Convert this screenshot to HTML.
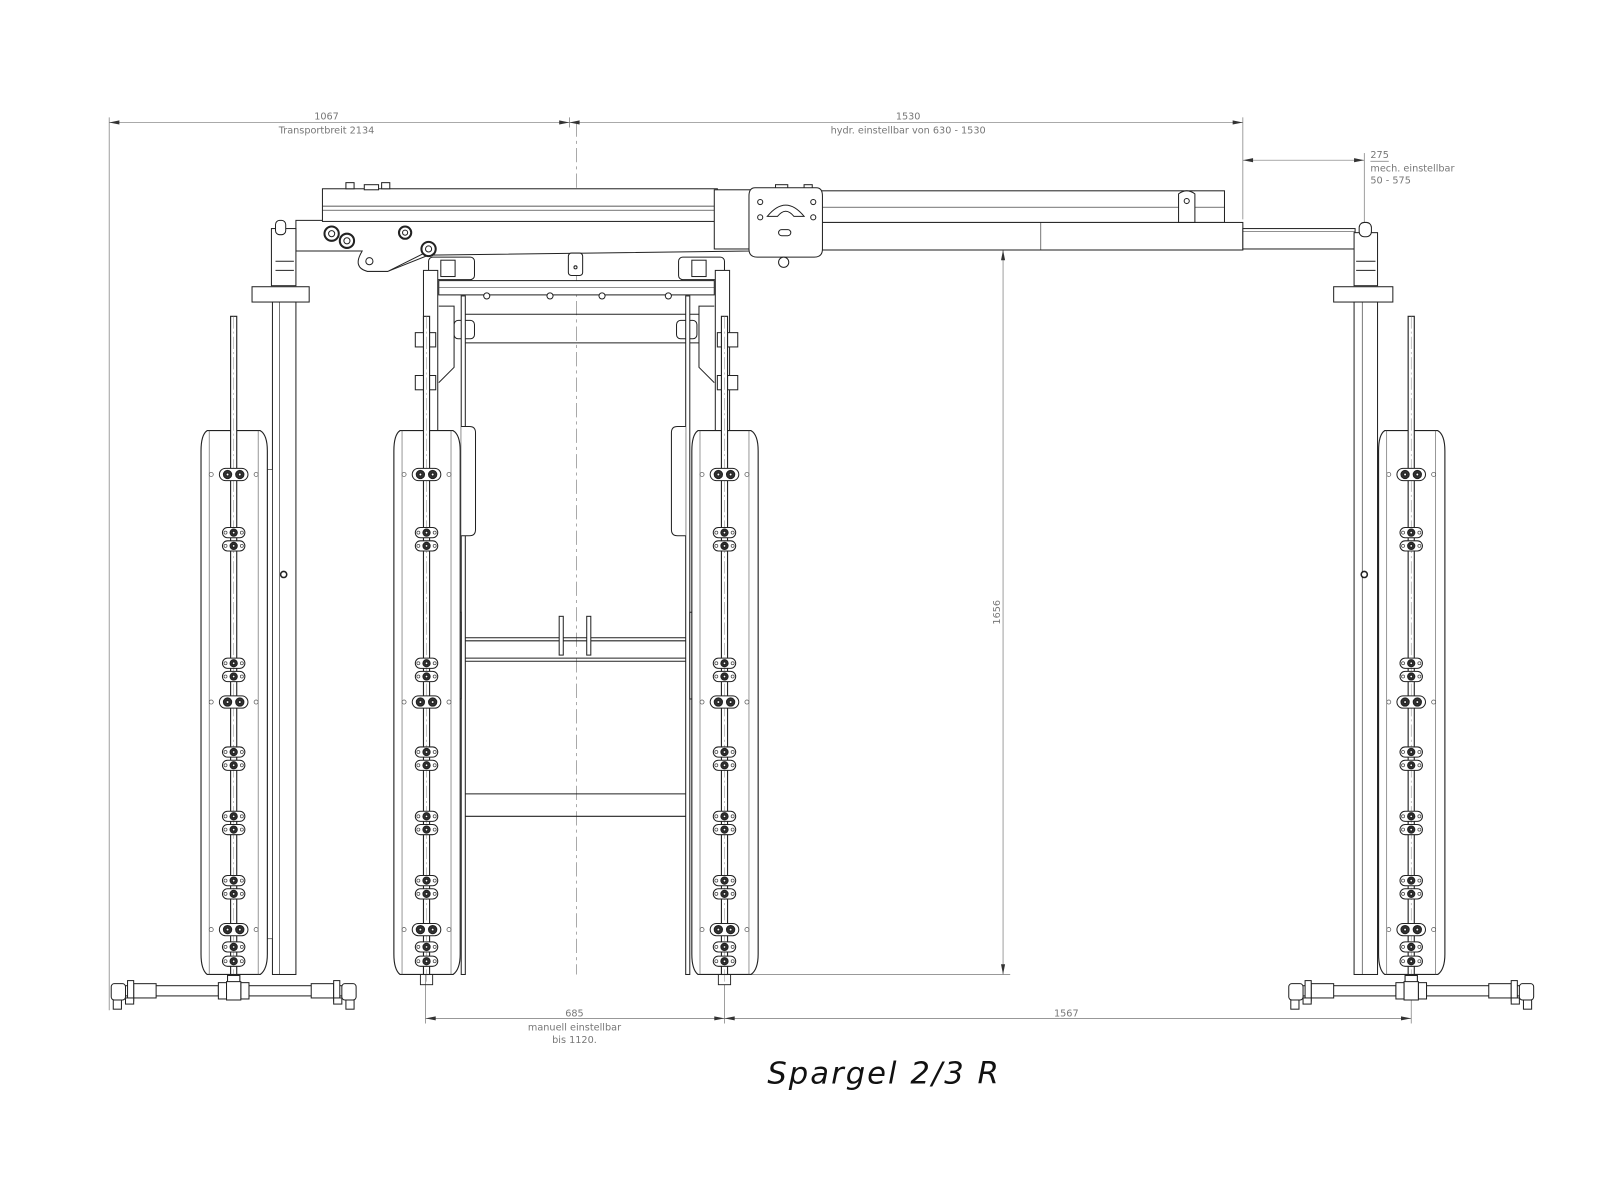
<!DOCTYPE html>
<html><head><meta charset="utf-8"><style>
html,body{margin:0;padding:0;background:#fff;}
svg{display:block}
text{font-family:"DejaVu Sans","Liberation Sans",sans-serif;fill:#777;}
</style></head><body>
<svg width="1600" height="1200" viewBox="0 0 1600 1200" xmlns="http://www.w3.org/2000/svg">
<defs>
<g id="c1"><rect x="-11" y="-5" width="22" height="10" rx="5" fill="#fff" stroke="#222" stroke-width="1"/><circle cx="0" cy="0" r="3.5" fill="#333"/><circle cx="0" cy="0" r="1.4" fill="#fff"/><circle cx="-8" cy="0" r="1.5" fill="none" stroke="#444" stroke-width=".7"/><circle cx="8" cy="0" r="1.5" fill="none" stroke="#444" stroke-width=".7"/></g>
<g id="c2"><rect x="-14" y="-6" width="28" height="12" rx="6" fill="#fff" stroke="#222" stroke-width="1"/><circle cx="-6" cy="0" r="4" fill="#333"/><circle cx="6" cy="0" r="4" fill="#333"/><circle cx="-6" cy="0" r="1.5" fill="#fff"/><circle cx="6" cy="0" r="1.5" fill="#fff"/><circle cx="-22" cy="0" r="2" fill="none" stroke="#555" stroke-width=".7"/><circle cx="22" cy="0" r="2" fill="none" stroke="#555" stroke-width=".7"/></g>
<g id="tank" fill="none" stroke="#222" stroke-width="1.1">
<path d="M-26,422 L26,422 Q33,426 33,442 L33,935 Q33,950 26,955 L-26,955 Q-32,950 -32,935 L-32,442 Q-32,426 -26,422 Z" fill="#fff"/>
<line x1="-24" y1="422" x2="-24" y2="955" stroke-width=".6" stroke="#555"/>
<line x1="24" y1="422" x2="24" y2="955" stroke-width=".6" stroke="#555"/>
<rect x="-3" y="310" width="6" height="645" fill="#fff"/>
<line x1="0" y1="310" x2="0" y2="965" stroke="#888" stroke-width=".5" stroke-dasharray="12,3,2,3"/>
<rect x="-6" y="955" width="12" height="10" stroke-width=".9"/>
<use href="#c2" y="465"/><use href="#c1" y="522"/><use href="#c1" y="535"/>
<use href="#c1" y="650"/><use href="#c1" y="663"/><use href="#c2" y="688"/>
<use href="#c1" y="737"/><use href="#c1" y="750"/><use href="#c1" y="800"/><use href="#c1" y="813"/>
<use href="#c1" y="863"/><use href="#c1" y="876"/><use href="#c2" y="911"/><use href="#c1" y="928"/><use href="#c1" y="942"/>
</g>
<g id="pipe" fill="#fff" stroke="#222" stroke-width="1">
<rect x="-6" y="956" width="12" height="8"/>
<rect x="-110" y="966" width="95" height="10"/><rect x="15" y="966" width="95" height="10"/>
<rect x="-15" y="963" width="8" height="16"/><rect x="7" y="963" width="8" height="16"/>
<rect x="-7" y="962" width="14" height="18"/>
<rect x="-98" y="964" width="22" height="14"/><rect x="76" y="964" width="22" height="14"/>
<rect x="-104" y="961" width="6" height="20"/><rect x="98" y="961" width="6" height="20"/>
<rect x="-120" y="964" width="14" height="16" rx="3"/><rect x="106" y="964" width="14" height="16" rx="3"/>
<rect x="-118" y="980" width="8" height="9"/><rect x="110" y="980" width="8" height="9"/>
<rect x="-106" y="978" width="8" height="6"/><rect x="98" y="978" width="8" height="6"/>
</g>
</defs>
<g transform="scale(1.0204)">
<g stroke="#777" stroke-width=".7" fill="none">
<line x1="107" y1="120" x2="1218" y2="120"/>
<line x1="107" y1="115" x2="107" y2="990"/>
<line x1="1218" y1="115" x2="1218" y2="215"/>
<line x1="558" y1="115" x2="558" y2="125"/>
<line x1="1218" y1="157" x2="1337" y2="157"/>
<line x1="1337" y1="150" x2="1337" y2="225"/>
<line x1="983" y1="245" x2="983" y2="955"/>
<line x1="710" y1="955" x2="990" y2="955"/>
<line x1="417" y1="955" x2="417" y2="1003"/>
<line x1="710" y1="965" x2="710" y2="1003"/>
<line x1="1383" y1="965" x2="1383" y2="1003"/>
<line x1="417" y1="998" x2="1383" y2="998"/>
<line x1="1343" y1="158" x2="1361" y2="158"/>
<line x1="565" y1="120" x2="565" y2="955" stroke-dasharray="14,4,3,4" stroke="#888"/>
</g>
<g fill="#333">
<path d="M107,120 l10,-2 v4z"/><path d="M558,120 l-10,-2 v4z"/><path d="M558,120 l10,-2 v4z"/><path d="M1218,120 l-10,-2 v4z"/>
<path d="M1218,157 l10,-2 v4z"/><path d="M1337,157 l-10,-2 v4z"/>
<path d="M983,245 l-2,10 h4z"/><path d="M983,955 l-2,-10 h4z"/>
<path d="M417,998 l10,-2 v4z"/><path d="M710,998 l-10,-2 v4z"/><path d="M710,998 l10,-2 v4z"/><path d="M1383,998 l-10,-2 v4z"/>
</g>
<g font-size="9.5" text-anchor="middle">
<text x="320" y="117">1067</text><text x="320" y="131">Transportbreit 2134</text>
<text x="890" y="117">1530</text><text x="890" y="131">hydr. einstellbar von 630 - 1530</text>
<text x="563" y="996">685</text><text x="563" y="1010">manuell einstellbar</text><text x="563" y="1022">bis 1120.</text>
<text x="1045" y="996">1567</text>
<text x="980" y="600" transform="rotate(-90 980 600)">1656</text>
</g>
<g font-size="9.5"><text x="1343" y="155">275</text><text x="1343" y="168">mech. einstellbar</text><text x="1343" y="180">50 - 575</text></g>

<g fill="#fff" stroke="#222" stroke-width="1">
<path d="M290,216 L290,246 L355,246 Q350,262 360,266 L380,266 L420,250 L735,246 L735,216 Z"/>
<rect x="316" y="185" width="387" height="32"/>
<line x1="316" y1="202" x2="703" y2="202" stroke-width=".8"/>
<line x1="316" y1="206" x2="703" y2="206" stroke-width=".6"/>
<rect x="700" y="186" width="38" height="58"/>
<rect x="805" y="187" width="395" height="31"/>
<line x1="805" y1="203" x2="1200" y2="203" stroke-width=".6"/>
<rect x="800" y="218" width="418" height="27"/>
<line x1="1020" y1="218" x2="1020" y2="245" stroke-width=".6"/>
<rect x="1218" y="224" width="110" height="20"/>
<line x1="1218" y1="227" x2="1328" y2="227" stroke-width=".6"/>
<path d="M1155,218 v-28 q8,-6 16,0 v28 z"/><circle cx="1163" cy="197" r="2.5"/>
<rect x="339" y="179" width="8" height="6"/><rect x="357" y="181" width="14" height="5"/><rect x="374" y="179" width="8" height="6"/>
<rect x="760" y="181" width="12" height="6"/><rect x="788" y="181" width="8" height="6"/>
<path d="M740,184 L800,184 Q806,184 806,192 L806,244 Q806,252 798,252 L742,252 Q734,252 734,244 L734,192 Q734,184 740,184 Z"/>
<path d="M752,212 q18,-22 36,0 h-10 q-8,-10 -16,0z"/>
<circle cx="745" cy="198" r="2.5"/><circle cx="797" cy="198" r="2.5"/><circle cx="745" cy="213" r="2.5"/><circle cx="797" cy="213" r="2.5"/>
<rect x="763" y="225" width="12" height="6" rx="3"/>
<circle cx="768" cy="257" r="5"/>
<path d="M355,246 Q345,262 360,266 L380,266 L420,246"/>
<circle cx="362" cy="256" r="3.5"/>
<circle cx="325" cy="229" r="7" stroke-width="2"/><circle cx="325" cy="229" r="3"/>
<circle cx="340" cy="236" r="7" stroke-width="2"/><circle cx="340" cy="236" r="3"/>
<circle cx="397" cy="228" r="6" stroke-width="2"/><circle cx="397" cy="228" r="2.5"/>
<circle cx="420" cy="244" r="7" stroke-width="2"/><circle cx="420" cy="244" r="3"/>
<rect x="266" y="224" width="24" height="56"/><rect x="270" y="216" width="10" height="14" rx="4"/>
<line x1="270" y1="256" x2="288" y2="256"/><line x1="270" y1="265" x2="288" y2="265"/>
<rect x="247" y="281" width="56" height="15"/>
<rect x="267" y="296" width="23" height="659"/>
<line x1="274" y1="296" x2="274" y2="955" stroke-width=".6"/>
<circle cx="278" cy="563" r="3" stroke-width="1.5"/>
<rect x="262" y="460" width="5" height="460" stroke-width=".6"/>
<rect x="1327" y="228" width="23" height="52"/><rect x="1332" y="218" width="12" height="14" rx="5"/>
<line x1="1329" y1="256" x2="1348" y2="256"/><line x1="1329" y1="265" x2="1348" y2="265"/>
<rect x="1307" y="281" width="58" height="15"/>
<rect x="1327" y="296" width="23" height="659"/>
<line x1="1335" y1="296" x2="1335" y2="955" stroke-width=".6"/>
<circle cx="1337" cy="563" r="3" stroke-width="1.5"/>
<rect x="430" y="275" width="270" height="14"/>
<line x1="430" y1="282" x2="700" y2="282" stroke-width=".6"/>
<rect x="420" y="252" width="45" height="22" rx="4"/><rect x="432" y="255" width="14" height="16"/>
<rect x="665" y="252" width="45" height="22" rx="4"/><rect x="678" y="255" width="14" height="16"/>
<rect x="557" y="248" width="14" height="22" rx="3"/><circle cx="564" cy="262" r="1.5"/>
<circle cx="477" cy="290" r="3"/><circle cx="539" cy="290" r="3"/><circle cx="590" cy="290" r="3"/><circle cx="655" cy="290" r="3"/>
<line x1="456" y1="308" x2="690" y2="308"/><line x1="456" y1="336" x2="690" y2="336"/>
<rect x="445" y="314" width="20" height="18" rx="4"/><rect x="663" y="314" width="20" height="18" rx="4"/>
<rect x="415" y="265" width="14" height="690"/><rect x="701" y="265" width="14" height="690"/>
<rect x="452" y="290" width="4" height="665"/><rect x="672" y="290" width="4" height="665"/>
<path d="M430,300 L445,300 L445,360 L430,375"/><path d="M700,300 L685,300 L685,360 L700,375"/>
<rect x="407" y="326" width="20" height="14"/><rect x="407" y="368" width="20" height="14"/>
<rect x="703" y="326" width="20" height="14"/><rect x="703" y="368" width="20" height="14"/>
<line x1="456" y1="625" x2="672" y2="625"/><line x1="456" y1="628" x2="672" y2="628"/>
<line x1="456" y1="645" x2="672" y2="645"/><line x1="456" y1="648" x2="672" y2="648"/>
<line x1="456" y1="778" x2="672" y2="778"/><line x1="456" y1="800" x2="672" y2="800"/>
<rect x="548" y="604" width="4" height="38"/><rect x="575" y="604" width="4" height="38"/>
<rect x="448" y="600" width="4" height="85"/><rect x="676" y="600" width="4" height="85"/>
<path d="M452,418 h8 q6,0 6,6 v95 q0,6 -6,6 h-8"/>
<path d="M672,418 h-8 q-6,0 -6,6 v95 q0,6 6,6 h8"/>
</g>

<use href="#tank" x="229"/>
<use href="#tank" x="418"/>
<use href="#tank" x="710"/>
<use href="#tank" x="1383"/>
<use href="#pipe" x="229"/>
<use href="#pipe" x="1383"/>

<text x="752" y="1062" font-size="30" font-style="italic" style="fill:#111;letter-spacing:2px" font-family="'DejaVu Sans',sans-serif">Spargel  2/3  R</text>
</g>
</svg>
</body></html>
